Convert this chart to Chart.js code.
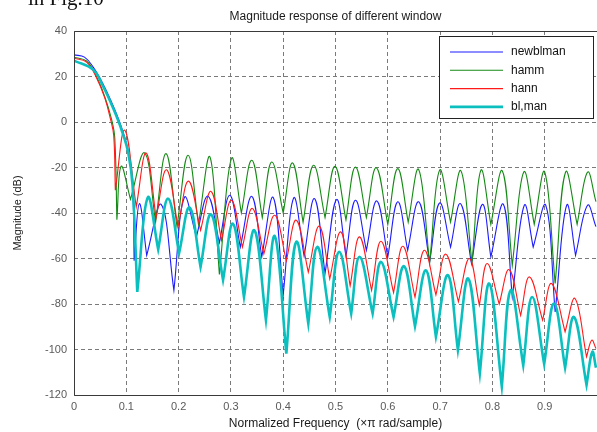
<!DOCTYPE html>
<html>
<head>
<meta charset="utf-8">
<script src="https://cdn.jsdelivr.net/npm/chart.js@4.4.1/dist/chart.umd.min.js"></script>
<style>
  html, body { margin: 0; padding: 0; background: #fff; }
  #wrap { position: relative; width: 597px; height: 432px; overflow: hidden; }
  #caption { position: absolute; left: 28px; top: -12px; font: 21px "Liberation Serif", serif; color: #111; line-height: 21px; }
  canvas { position: absolute; left: 0; top: 0; }
</style>
</head>
<body>
<div id="wrap">
  <canvas id="freqChart" width="597" height="432"></canvas>
  <div id="caption">in Fig.10</div>
</div>
<script>
// magnitude (dB) against normalized frequency, main lobe then sidelobe peaks / nulls
const blueX = [0, 0.02, 0.037, 0.056, 0.075, 0.091, 0.104, 0.112, 0.115, 0.125, 0.139, 0.167, 0.191, 0.211, 0.234, 0.256, 0.278, 0.298,
  0.318, 0.34, 0.359, 0.381, 0.40, 0.42, 0.44, 0.46, 0.48, 0.502, 0.52, 0.538, 0.559, 0.579, 0.60, 0.619, 0.638, 0.659, 0.68, 0.699,
  0.72, 0.739, 0.76, 0.781, 0.797, 0.821, 0.838, 0.861, 0.878, 0.902, 0.92, 0.942, 0.959, 0.982, 0.998];
const blueY = [29.5, 28.5, 24, 16.5, 7, -2.5, -13, -27, -61, -35.9, -58.6, -36.3, -74, -33.2, -50.5, -32.6, -53, -32.2,
  -55, -32.7, -59.3, -33.2, -76, -33.4, -59, -33.7, -66.6, -34.1, -59, -34.4, -56.4, -34.7, -59.3, -35.1, -56.4, -35.1, -61.5, -35.6,
  -55, -35.9, -62.2, -36.2, -59.3, -36.2, -76.9, -36.6, -55, -36.6, -83.5, -36.6, -58.6, -36.6, -46];

const greenX = [0, 0.024, 0.043, 0.059, 0.072, 0.078, 0.082, 0.09, 0.108, 0.135, 0.156, 0.176, 0.197, 0.218, 0.238, 0.26, 0.278, 0.301,
  0.32, 0.34, 0.36, 0.378, 0.40, 0.418, 0.438, 0.458, 0.48, 0.499, 0.52, 0.538, 0.559, 0.578, 0.60, 0.619, 0.639, 0.659, 0.68, 0.699,
  0.72, 0.74, 0.761, 0.778, 0.797, 0.819, 0.838, 0.86, 0.88, 0.90, 0.92, 0.94, 0.962, 0.982, 0.998];
const greenY = [28.5, 26.8, 20, 11, 1, -7, -43, -19.5, -34, -13.6, -44, -13.9, -46, -14.6, -45, -15.4, -67, -16.1,
  -40, -16.8, -42, -17.6, -40, -18, -44, -19, -42, -19.5, -43, -19.8, -42, -20.1, -45, -20.5, -44, -20.9, -62, -21.2,
  -44, -21.5, -62, -21.2, -45, -21.5, -63, -22, -45, -22, -71, -22, -45, -22, -35];

const redX = [0, 0.024, 0.043, 0.059, 0.07, 0.076, 0.079, 0.097, 0.119, 0.138, 0.157, 0.177, 0.199, 0.219, 0.242, 0.262, 0.282, 0.301,
  0.322, 0.341, 0.363, 0.384, 0.406, 0.425, 0.448, 0.469, 0.489, 0.51, 0.528, 0.546, 0.569, 0.587, 0.611, 0.629, 0.652, 0.67, 0.692, 0.711,
  0.735, 0.756, 0.775, 0.79, 0.813, 0.832, 0.854, 0.871, 0.896, 0.913, 0.939, 0.958, 0.98, 0.99, 0.998];
const redY = [28, 26.3, 19.5, 10.5, 1, -6, -30, -3.6, -37.3, -13.6, -42, -21, -46, -26, -47.6, -30.5, -52, -34.4,
  -55, -38, -58, -41, -61, -43.2, -66, -45.8, -69, -48.3, -72, -50.5, -74, -52.4, -75, -54.6, -77, -56.4, -76, -58.1,
  -79, -60, -80.5, -62.2, -80, -64.9, -85, -68.1, -87.1, -71, -92.2, -77.6, -103.2, -95.9, -99.6];

const cyanX = [0, 0.037, 0.056, 0.075, 0.091, 0.104, 0.112, 0.121, 0.141, 0.161, 0.18, 0.201, 0.221, 0.242, 0.262, 0.285, 0.304, 0.325,
  0.345, 0.367, 0.384, 0.406, 0.425, 0.448, 0.465, 0.489, 0.507, 0.53, 0.546, 0.571, 0.587, 0.611, 0.631, 0.652, 0.673, 0.692, 0.715, 0.734,
  0.754, 0.776, 0.794, 0.818, 0.835, 0.859, 0.876, 0.899, 0.918, 0.939, 0.956, 0.98, 0.991, 0.998];
const cyanY = [27, 22.9, 15.5, 6, -3.5, -13.8, -28, -74.7, -33.2, -56, -33.7, -57.6, -37.6, -63.7, -40.6, -69.5, -44.7, -76.9,
  -47.6, -87.1, -50.2, -101.8, -52.7, -88.6, -54.9, -85.7, -57.1, -84.2, -59.3, -84.2, -61.5, -85.7, -63.4, -89.8, -65.2, -94.4, -67.3, -100.3,
  -68.8, -110.5, -71, -116.3, -73.9, -107, -76.9, -106.4, -79.8, -108, -85.7, -115.6, -101, -108];

const seriesNames = ['newblman', 'hamm', 'hann', 'bl,man'];
const xTicks = [0, 0.1, 0.2, 0.3, 0.4, 0.5, 0.6, 0.7, 0.8, 0.9];
const xTickLabels = ['0', '0.1', '0.2', '0.3', '0.4', '0.5', '0.6', '0.7', '0.8', '0.9'];
const yTicks = [-120, -100, -80, -60, -40, -20, 0, 20, 40];

const FONT = '"Liberation Sans", Arial, sans-serif';

// nulls get repeated so the spline drops into them as a sharp notch
function toPoints(xs, ys) {
  const pts = [];
  xs.forEach((x, i) => {
    pts.push({ x: x, y: ys[i] });
    if (i > 0 && i < xs.length - 1 && ys[i] < ys[i - 1] && ys[i] < ys[i + 1]) {
      pts.push({ x: x, y: ys[i] });
    }
  });
  return pts;
}

const framePlugin = {
  id: 'frame',
  afterDraw(chart) {
    const { ctx, chartArea: a } = chart;
    ctx.save();
    // axes box
    ctx.strokeStyle = '#3a3a3a';
    ctx.lineWidth = 1;
    ctx.beginPath();
    ctx.moveTo(a.right, a.top + 0.5);
    ctx.lineTo(a.left + 0.5, a.top + 0.5);
    ctx.lineTo(a.left + 0.5, a.bottom + 0.5);
    ctx.lineTo(a.right, a.bottom + 0.5);
    ctx.stroke();

    // title
    ctx.fillStyle = '#1a1a1a';
    ctx.font = '12px ' + FONT;
    ctx.textAlign = 'center';
    ctx.textBaseline = 'middle';
    ctx.fillText('Magnitude response of different window', (a.left + a.right) / 2, 17);

    // legend
    const lx = 439.5, ly = 36.5, lw = 154, lh = 82;
    ctx.fillStyle = '#fff';
    ctx.fillRect(lx, ly, lw, lh);
    ctx.strokeStyle = '#222';
    ctx.strokeRect(lx, ly, lw, lh);
    ctx.font = '12px ' + FONT;
    ctx.textAlign = 'left';
    chart.data.datasets.forEach((ds, i) => {
      const y = ly + 15.5 + i * 18.3;
      ctx.strokeStyle = ds.borderColor;
      ctx.lineWidth = ds.borderWidth;
      ctx.beginPath();
      ctx.moveTo(450, y);
      ctx.lineTo(503, y);
      ctx.stroke();
      ctx.fillStyle = '#111';
      ctx.fillText(ds.label, 511, y);
    });
    ctx.restore();
  }
};

const ctx = document.getElementById('freqChart');
new Chart(ctx, {
  type: 'line',
  data: {
    datasets: [
      { label: seriesNames[0], data: toPoints(blueX, blueY), borderColor: '#1c1cff', borderWidth: 1.1, order: 3 },
      { label: seriesNames[1], data: toPoints(greenX, greenY), borderColor: '#148a14', borderWidth: 1.1, order: 2 },
      { label: seriesNames[2], data: toPoints(redX, redY), borderColor: '#ff1a1a', borderWidth: 1.1, order: 1 },
      { label: seriesNames[3], data: toPoints(cyanX, cyanY), borderColor: '#0cbfbf', borderWidth: 2.6, order: 0 }
    ]
  },
  options: {
    responsive: false,
    animation: false,
    layout: { padding: { top: 31, right: 0, bottom: 0, left: 0 } },
    elements: {
      point: { radius: 0 },
      line: { tension: 0.4, borderJoinStyle: 'miter' }
    },
    plugins: {
      legend: { display: false },
      title: { display: false },
      tooltip: { enabled: false }
    },
    scales: {
      x: {
        type: 'linear',
        min: 0,
        max: 1,
        afterBuildTicks: (s) => { s.ticks = xTicks.map(v => ({ value: v })); },
        afterFit: (s) => { s.height = 37; },
        ticks: {
          padding: 5,
          color: '#5a5a5a',
          font: { family: FONT, size: 11 },
          maxRotation: 0,
          callback: (v, i) => xTickLabels[i]
        },
        grid: { color: '#7a7a7a', lineWidth: 1, drawTicks: false },
        border: { display: false, dash: [4, 3] },
        title: {
          display: true,
          text: 'Normalized Frequency  (\u00d7\u03c0 rad/sample)',
          color: '#1a1a1a',
          font: { family: FONT, size: 12 },
          padding: { top: 0, bottom: 1 }
        }
      },
      y: {
        min: -120,
        max: 40,
        afterBuildTicks: (s) => { s.ticks = yTicks.map(v => ({ value: v })); },
        afterFit: (s) => { s.width = 74; },
        ticks: {
          padding: 7,
          color: '#5a5a5a',
          font: { family: FONT, size: 11 },
          callback: (v) => String(v)
        },
        grid: { color: '#7a7a7a', lineWidth: 1, drawTicks: false },
        border: { display: false, dash: [4, 3] },
        title: {
          display: true,
          text: 'Magnitude (dB)',
          color: '#1a1a1a',
          font: { family: FONT, size: 11 },
          padding: { top: 11, bottom: 0 }
        }
      }
    }
  },
  plugins: [framePlugin]
});
</script>
</body>
</html>
